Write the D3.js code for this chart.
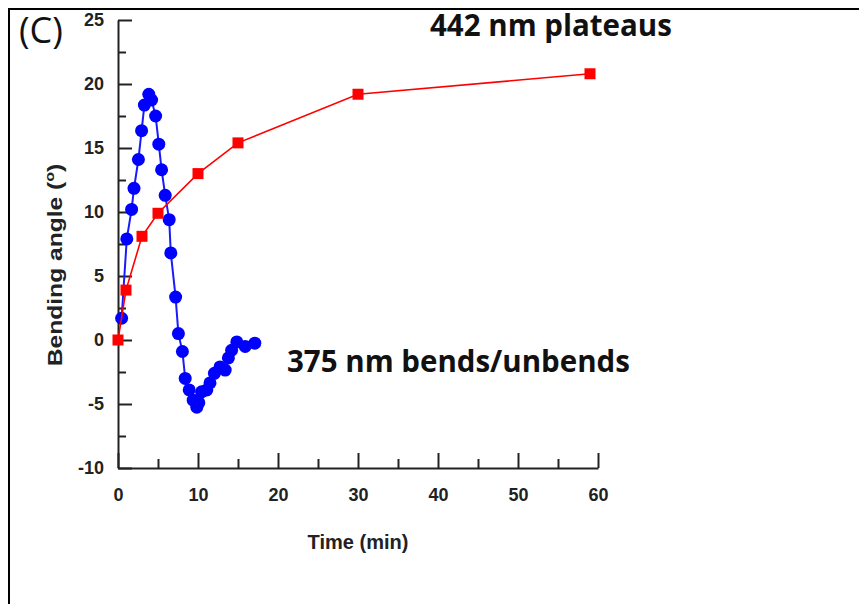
<!DOCTYPE html>
<html>
<head>
<meta charset="utf-8">
<script src="https://cdn.jsdelivr.net/npm/d3@7"></script>
<style>
  body { margin: 0; background: #fff; }
  svg { display: block; }
  .tick text { font-family: "Liberation Sans", Arial, sans-serif; font-weight: bold; font-size: 18px; fill: #222; }
</style>
</head>
<body>
<div id="chart"></div>
<script>
// 442 nm : red squares
var redTime  = [0, 1, 3, 5, 10, 15, 30, 59]
var redAngle = [0, 3.9, 8.1, 9.9, 13.0, 15.4, 19.2, 20.8]

// 375 nm : blue circles
var blueTime  = [0.45, 1.1, 1.7, 2.0, 2.55, 2.95, 3.3, 3.85, 4.2, 4.7, 5.1, 5.45, 5.9, 6.4, 6.6, 7.2, 7.55,
                 8.05, 8.4, 8.9, 9.4, 9.85, 10.1, 10.45, 11.1, 11.5, 12.05, 12.75, 13.4, 13.8, 14.2, 14.85, 15.9, 17.1]
var blueAngle = [1.7, 7.9, 10.2, 11.85, 14.1, 16.35, 18.35, 19.2, 18.75, 17.5, 15.3, 13.3, 11.3, 9.4, 6.8, 3.35, 0.5,
                 -0.9, -3.0, -3.9, -4.7, -5.25, -4.9, -4.05, -3.9, -3.35, -2.6, -2.1, -2.35, -1.4, -0.8, -0.15, -0.5, -0.25]

var xMajor = [0, 10, 20, 30, 40, 50, 60]
var xMinor = [5, 15, 25, 35, 45, 55]
var yMajor = [-10, -5, 0, 5, 10, 15, 20, 25]
var yMinor = [-7.5, -2.5, 2.5, 7.5, 12.5, 17.5, 22.5]

var W = 859, H = 604

var svg = d3.select('#chart').append('svg')
  .attr('width', W)
  .attr('height', H)

// frame
svg.append('path')
  .attr('d', 'M9,' + H + 'V9H' + W)
  .attr('fill', 'none')
  .attr('stroke', '#000')
  .attr('stroke-width', 2)

var x = d3.scaleLinear().domain([0, 60]).range([118, 598])
var y = d3.scaleLinear().domain([-10, 25]).range([468, 20])

var plain = function (d) { return String(d) }   // keep hyphen minus like the original

// y axis (ticks point inward)
svg.append('g')
  .attr('transform', 'translate(118,0)')
  .call(d3.axisLeft(y).tickValues(yMinor).tickSize(-8).tickFormat(''))
  .call(function (g) { g.select('.domain').remove() })
  .selectAll('line').attr('stroke', '#222').attr('stroke-width', 2)

svg.append('g')
  .attr('transform', 'translate(118,0)')
  .call(d3.axisLeft(y).tickValues(yMajor).tickFormat(plain).tickSizeInner(-14).tickSizeOuter(0).tickPadding(14))
  .call(function (g) {
    g.select('.domain').attr('stroke', '#222').attr('stroke-width', 2)
    g.selectAll('line').attr('stroke', '#222').attr('stroke-width', 2)
  })

// x axis
svg.append('g')
  .attr('transform', 'translate(0,468)')
  .call(d3.axisBottom(x).tickValues(xMinor).tickSize(-9).tickFormat(''))
  .call(function (g) { g.select('.domain').remove() })
  .selectAll('line').attr('stroke', '#222').attr('stroke-width', 2)

svg.append('g')
  .attr('transform', 'translate(0,468)')
  .call(d3.axisBottom(x).tickValues(xMajor).tickFormat(plain).tickSizeInner(-15).tickSizeOuter(0).tickPadding(20))
  .call(function (g) {
    g.select('.domain').attr('stroke', '#222').attr('stroke-width', 2)
    g.selectAll('line').attr('stroke', '#222').attr('stroke-width', 2)
  })

// axis titles
svg.append('text')
  .attr('x', 358).attr('y', 549)
  .attr('text-anchor', 'middle')
  .style('font-family', '"Liberation Sans", Arial, sans-serif')
  .style('font-weight', 'bold').style('font-size', '20px').style('fill', '#222')
  .text('Time (min)')

// the original is stretched vertically, so the rotated title runs long
var yl = svg.append('text')
  .attr('transform', 'translate(62,265) rotate(-90) scale(1.23,1)')
  .attr('text-anchor', 'middle')
  .style('font-family', '"Liberation Sans", Arial, sans-serif')
  .style('font-weight', 'bold').style('font-size', '20px').style('fill', '#222')
yl.append('tspan').text('Bending angle (')
yl.append('tspan').attr('dy', -8).style('font-size', '13px').text('o')
yl.append('tspan').attr('dy', 8).text(')')

var blue = blueTime.map(function (t, i) { return { t: t, v: blueAngle[i] } })
var red = redTime.map(function (t, i) { return { t: t, v: redAngle[i] } })

var line = d3.line().x(function (d) { return x(d.t) }).y(function (d) { return y(d.v) })

// blue series
svg.append('path')
  .datum(blue)
  .attr('d', line)
  .attr('fill', 'none')
  .attr('stroke', '#1a1aff')
  .attr('stroke-width', 2)

svg.selectAll('circle.blue')
  .data(blue)
  .enter()
  .append('circle')
  .attr('class', 'blue')
  .attr('cx', function (d) { return x(d.t) })
  .attr('cy', function (d) { return y(d.v) })
  .attr('r', 6.5)
  .style('fill', '#0000ff')

// red series
svg.append('path')
  .datum(red)
  .attr('d', line)
  .attr('fill', 'none')
  .attr('stroke', '#ff0000')
  .attr('stroke-width', 1.6)

var s = 11
svg.selectAll('rect.red')
  .data(red)
  .enter()
  .append('rect')
  .attr('class', 'red')
  .attr('x', function (d) { return x(d.t) - s / 2 })
  .attr('y', function (d) { return y(d.v) - s / 2 })
  .attr('width', s)
  .attr('height', s)
  .style('fill', '#ff0000')

// annotations
svg.append('text')
  .attr('x', 19).attr('y', 43)
  .style('font-family', '"Open Sans", sans-serif')
  .style('font-size', '36px').style('fill', '#111')
  .text('(C)')

svg.append('text')
  .attr('x', 430).attr('y', 36)
  .style('font-family', '"Open Sans", sans-serif')
  .style('font-weight', 'bold').style('font-size', '29.5px').style('fill', '#111')
  .text('442 nm plateaus')

svg.append('text')
  .attr('x', 287).attr('y', 372)
  .style('font-family', '"Open Sans", sans-serif')
  .style('font-weight', 'bold').style('font-size', '29.5px').style('fill', '#111')
  .text('375 nm bends/unbends')
</script>
</body>
</html>
